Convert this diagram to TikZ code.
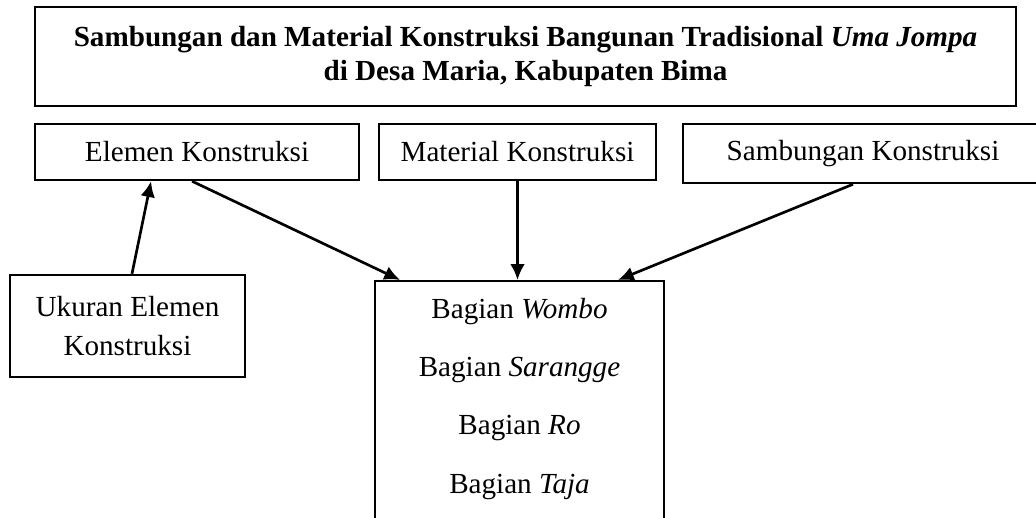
\documentclass[tikz,border=0pt]{standalone}
\usepackage{fontspec}
\setmainfont{Liberation Serif}
\usetikzlibrary{arrows.meta,positioning}

\begin{document}
\begin{tikzpicture}[
  >={Latex[length=6.5pt,width=6pt]},
  font=\fontsize{12}{14}\selectfont,
  box/.style={
    draw,
    line width=1pt,
    align=center,
    inner sep=0pt
  },
  arrow/.style={->, line width=1.1pt}
]
  \useasboundingbox (0,0) rectangle (15,-7.486);

  \node[box, minimum width=14.205cm, minimum height=1.434cm,
    font=\bfseries\fontsize{12}{14}\selectfont] (title) at (7.609,-0.818)
    {Sambungan dan Material Konstruksi Bangunan Tradisional \textit{Uma Jompa}\\di Desa Maria, Kabupaten Bima};
  \node[box, minimum width=4.692cm, minimum height=0.811cm] (elemen) at (2.853,-2.201) {Elemen Konstruksi};
  \node[box, minimum width=4.011cm, minimum height=0.811cm] (material) at (7.493,-2.201) {Material Konstruksi};
  \node[box, minimum width=5.213cm, minimum height=0.854cm] (sambungan) at (12.496,-2.223) {Sambungan Konstruksi};
  \node[box, minimum width=3.403cm, minimum height=1.477cm,
    font=\fontsize{12}{16}\selectfont] (ukuran) at (1.846,-4.720) {Ukuran Elemen\\Konstruksi};
  \node[box, anchor=north, minimum width=4.185cm, inner ysep=7pt,
    font=\fontsize{12}{24}\selectfont] (bagian) at (7.522,-4.054)
    {Bagian \textit{Wombo}\\Bagian \textit{Sarangge}\\Bagian \textit{Ro}\\Bagian \textit{Taja}\\[1.5cm]\mbox{}};

  \draw[arrow] ([xshift=0.065cm]ukuran.north) -- ([xshift=-0.666cm]elemen.south);
  \draw[arrow] ([xshift=-0.072cm]elemen.south) -- ([xshift=-1.730cm]bagian.north);
  \draw[arrow] (material.south) -- (material.south |- bagian.north);
  \draw[arrow] ([xshift=-0.145cm]sambungan.south) -- ([xshift=1.426cm]bagian.north);
\end{tikzpicture}
\end{document}
